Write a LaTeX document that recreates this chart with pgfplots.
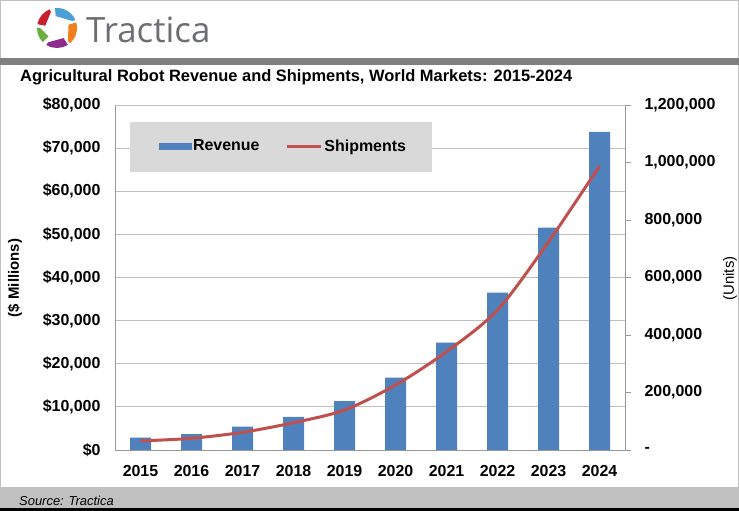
\documentclass[border=0pt]{standalone}
\usepackage{pgfplots}
\pgfplotsset{compat=1.18}
\usepackage{fontspec}
\setmainfont{Liberation Sans}
\newfontfamily\logofont{Open Sans}
\definecolor{barblue}{HTML}{4F81BD}
\definecolor{linered}{HTML}{C0504D}
\definecolor{gridgray}{HTML}{BFBFBF}
\definecolor{axisgray}{HTML}{999999}
\definecolor{legendgray}{HTML}{D9D9D9}
\definecolor{bandgray}{HTML}{808080}
\definecolor{footgray}{HTML}{C0C0C0}
\definecolor{logogray}{HTML}{6D6E71}
\definecolor{lred}{HTML}{C8202F}
\definecolor{lblue}{HTML}{4A9FD8}
\definecolor{lorange}{HTML}{F07F1E}
\definecolor{lpurple}{HTML}{8E2C8E}
\definecolor{lgreen}{HTML}{6AAE3E}
\begin{document}
\begin{tikzpicture}[x=1bp,y=1bp]
% page
\fill[white] (0,0) rectangle (739,511);
\draw[gridgray, line width=1bp] (0.5,0.5) rectangle (738.5,510.5);
% logo
\begin{scope}[shift={(57,483)}]
\fill[lred] (169:20) arc (169:111:20) -- (111:17) -- (169:12) -- cycle;
\fill[lblue] (96:20) arc (96:24:20) -- (24:17) -- (96:12) -- cycle;
\fill[lorange] (16:20) arc (16:-50:20) -- (-50:17) -- (16:12) -- cycle;
\fill[lpurple] (-57:20) arc (-57:-122:20) -- (-122:17) -- (-57:12) -- cycle;
\fill[lgreen] (-135:20) arc (-135:-180:20) -- (-180:17) -- (-135:12) -- cycle;
\end{scope}
\node[anchor=west, inner sep=0, text=logogray] at (86,481) {\logofont\fontsize{35}{40}\selectfont Tractica};
% top band
\fill[bandgray] (0,446) rectangle (739,453);
% title
\node[anchor=west, inner sep=0] at (20,434) {\bfseries\fontsize{16.5}{19}\selectfont Agricultural Robot Revenue and Shipments, World Markets: 2015-2024};
% footer
\fill[footgray] (0,3) rectangle (739,24);
\fill[black] (0,0) rectangle (739,3);
\node[anchor=west, inner sep=0] at (19,10) {\itshape\fontsize{13}{15}\selectfont Source: Tractica};
% axis labels
\node[rotate=90, inner sep=0] at (15,233) {\bfseries\fontsize{15}{18}\selectfont (\$ Millions)};
\node[rotate=90, inner sep=0] at (730,232.5) {\fontsize{15}{18}\selectfont (Units)};

\begin{axis}[
  at={(115bp,61bp)}, anchor=south west,
  width=510bp, height=345bp, scale only axis,
  xmin=-0.5, xmax=9.5, ymin=0, ymax=80000,
  scaled y ticks=false,
  axis line style={axisgray},
  axis x line*=bottom, axis y line*=left,
  xtick={0,...,9},
  xticklabels={2015,2016,2017,2018,2019,2020,2021,2022,2023,2024},
  ytick={0,10000,...,80000},
  yticklabels={{\$0},{\$10,000},{\$20,000},{\$30,000},{\$40,000},{\$50,000},{\$60,000},{\$70,000},{\$80,000}},
  major tick length=0,
  ymajorgrids, grid style={gridgray, line width=0.8bp},
  ticklabel style={font=\bfseries\fontsize{16}{19}\selectfont},
  yticklabel style={xshift=-11bp},
  xticklabel style={yshift=-12bp},
  ybar, bar width=21bp, bar shift=0pt,
]
\addplot[fill=barblue, draw=none] coordinates {
(0,2850) (1,3700) (2,5400) (3,7700) (4,11350) (5,16770) (6,24900) (7,36480) (8,51550) (9,73740)};
\end{axis}

\begin{axis}[
  at={(115bp,61bp)}, anchor=south west,
  width=510bp, height=345bp, scale only axis,
  xmin=-0.5, xmax=9.5, ymin=0, ymax=1200000,
  scaled y ticks=false,
  axis x line=none,
  axis y line*=right,
  axis line style={axisgray},
  ytick={0,200000,...,1200000},
  yticklabels={-,{200,000},{400,000},{600,000},{800,000},{1,000,000},{1,200,000}},
  yticklabel style={anchor=west, xshift=10bp, font=\bfseries\fontsize{16}{19}\selectfont},
  tick align=outside, major tick length=6bp, tick style={axisgray},
  legend style={draw=none, fill=none, at={(0.330,0.881)}, anchor=center, legend columns=2,
    font=\bfseries\fontsize{16}{19}\selectfont,
    /tikz/every even column/.append style={column sep=24bp}},
  legend cell align=left,
]
\fill[legendgray] (rel axis cs:0.0294,0.8058) rectangle (rel axis cs:0.6216,0.9507);
\addlegendimage{legend image code/.code={\fill[barblue] (0bp,-3bp) rectangle (32bp,3bp);}}
\addlegendentry{Revenue}
\addplot[linered, line width=3bp, smooth, forget plot] coordinates {
(0,31300) (1,40700) (2,61500) (3,95000) (4,139000) (5,226000) (6,342000) (7,487000) (8,724000) (9,988000)};
\addlegendimage{legend image code/.code={\draw[linered, line width=3bp] (0bp,0bp) -- (34bp,0bp);}}
\addlegendentry{Shipments}
\end{axis}
\end{tikzpicture}
\end{document}
